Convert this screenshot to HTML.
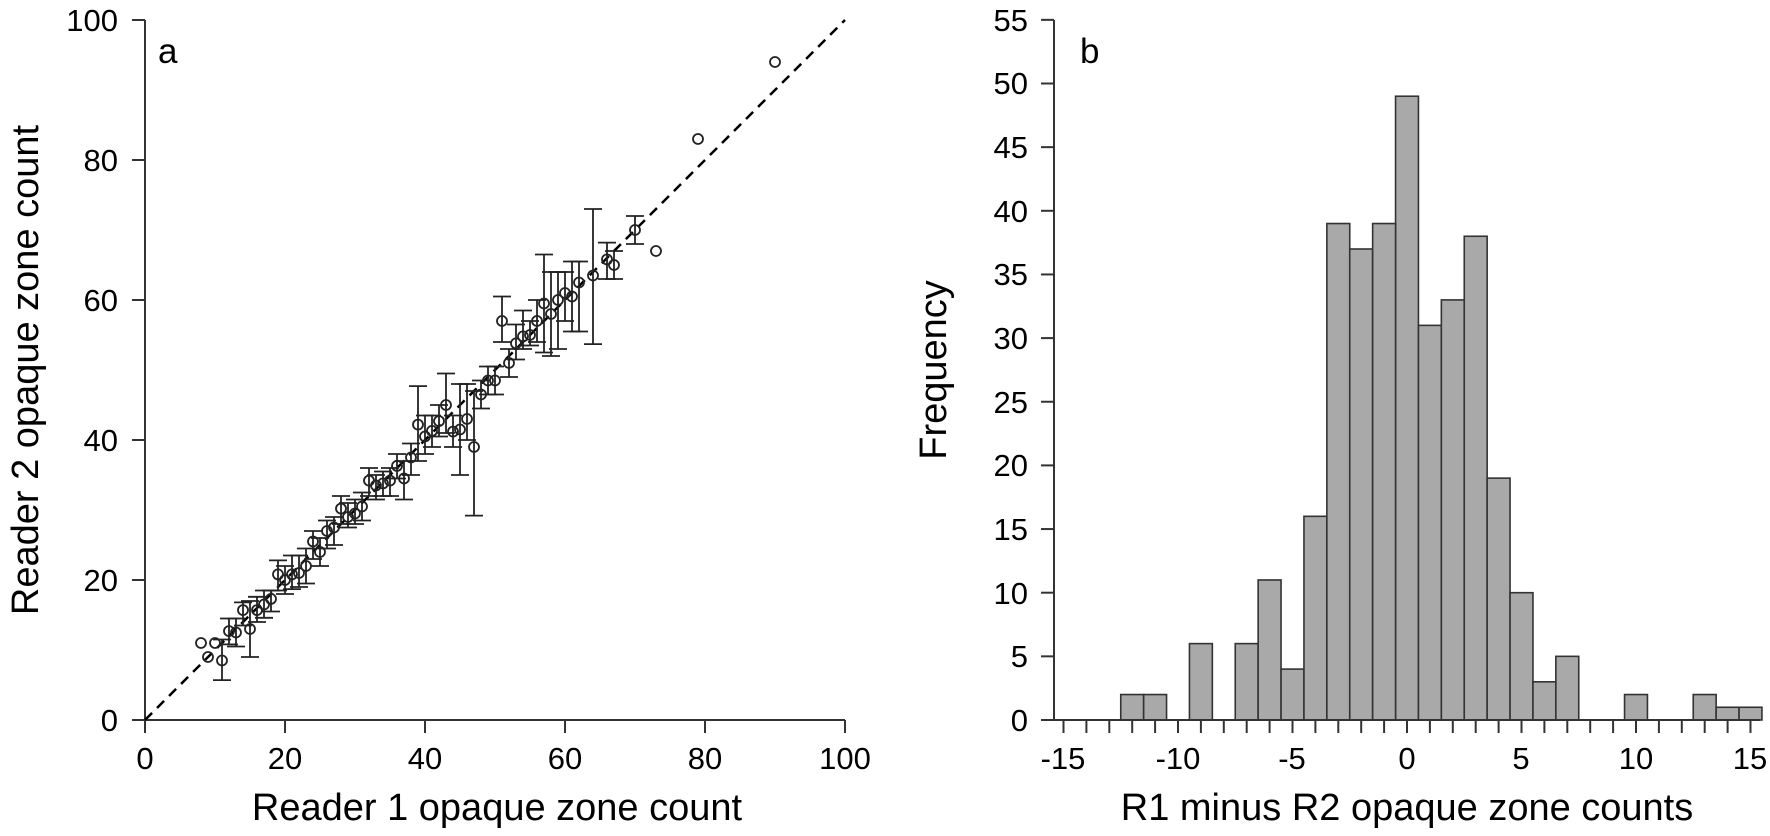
<!DOCTYPE html>
<html><head><meta charset="utf-8"><style>
html,body{margin:0;padding:0;background:#fff;}
svg{display:block;font-family:"Liberation Sans",Arial,sans-serif;}
</style></head><body>
<svg id="s" width="1770" height="836" viewBox="0 0 1770 836" xmlns="http://www.w3.org/2000/svg">
<rect width="1770" height="836" fill="#fff"/>
<g id="left" stroke="#333" stroke-width="2" fill="none">
<line x1="145" y1="20" x2="145" y2="720"/>
<line x1="132" y1="720" x2="845" y2="720"/>
<line x1="132" y1="580" x2="145" y2="580"/><line x1="132" y1="440" x2="145" y2="440"/><line x1="132" y1="300" x2="145" y2="300"/><line x1="132" y1="160" x2="145" y2="160"/><line x1="132" y1="20" x2="145" y2="20"/>
<line x1="145" y1="720" x2="145" y2="733"/><line x1="285" y1="720" x2="285" y2="733"/><line x1="425" y1="720" x2="425" y2="733"/><line x1="565" y1="720" x2="565" y2="733"/><line x1="705" y1="720" x2="705" y2="733"/><line x1="845" y1="720" x2="845" y2="733"/>
<line x1="145" y1="720" x2="845" y2="20" stroke="#000" stroke-width="2.5" stroke-dasharray="10,7"/>
</g>
<g id="pts" stroke="#222" stroke-width="1.8" fill="none"></g>
<g font-size="31" fill="#000" text-anchor="end">
<text x="118" y="731">0</text><text x="118" y="591">20</text><text x="118" y="451">40</text><text x="118" y="311">60</text><text x="118" y="171">80</text><text x="118" y="31">100</text>
</g>
<g font-size="31" fill="#000" text-anchor="middle">
<text x="145" y="769">0</text><text x="285" y="769">20</text><text x="425" y="769">40</text><text x="565" y="769">60</text><text x="705" y="769">80</text><text x="845" y="769">100</text>
</g>
<text x="497" y="820" font-size="38" text-anchor="middle">Reader 1 opaque zone count</text>
<text transform="translate(38,370) rotate(-90)" font-size="38" text-anchor="middle">Reader 2 opaque zone count</text>
<text x="158" y="63" font-size="35">a</text>

<g id="bars" stroke="#333" stroke-width="1.6" fill="#a9a9a9"></g>
<g id="right" stroke="#333" stroke-width="2" fill="none">
<line x1="1054" y1="20" x2="1054" y2="720"/>
<line x1="1054" y1="720" x2="1760" y2="720"/>
</g>
<g id="rt" stroke="#333" stroke-width="2"></g>
<g font-size="31" fill="#000" text-anchor="end">
<text x="1028" y="731">0</text><text x="1028" y="667">5</text><text x="1028" y="604">10</text><text x="1028" y="540">15</text><text x="1028" y="476">20</text><text x="1028" y="413">25</text><text x="1028" y="349">30</text><text x="1028" y="285">35</text><text x="1028" y="222">40</text><text x="1028" y="158">45</text><text x="1028" y="94">50</text><text x="1028" y="31">55</text>
</g>
<g font-size="31" fill="#000" text-anchor="middle">
<text x="1063" y="769">-15</text><text x="1178" y="769">-10</text><text x="1292" y="769">-5</text><text x="1407" y="769">0</text><text x="1521" y="769">5</text><text x="1636" y="769">10</text><text x="1750" y="769">15</text>
</g>
<text x="1407" y="820" font-size="38" text-anchor="middle">R1 minus R2 opaque zone counts</text>
<text transform="translate(946,370) rotate(-90)" font-size="38" text-anchor="middle">Frequency</text>
<text x="1080" y="63" font-size="35">b</text>
</svg>
<script>
var NS="http://www.w3.org/2000/svg";
function el(p,t,a){var e=document.createElementNS(NS,t);for(var k in a)e.setAttribute(k,a[k]);p.appendChild(e);return e;}
var X=function(v){return 145+7.0*v},Y=function(v){return 720-7.0*v};
var pts=document.getElementById('pts');
var solo=[[8,11],[9,9],[10,11],[73,67],[79,83],[90,94]];
var eb=[[11,8.5,5.7,11.5],[12,12.7,10.8,14.5],[13,12.5,10.5,14.5],[14,15.7,13.5,16.8],[15,13,9,17],[16,15.7,14,17.6],[17,16.5,14.6,18.5],[18,17.3,15.5,18.5],[19,20.8,18.5,22.8],[20,20,18,22],[21,20.8,18.7,23.5],[22,21,19,23.5],[23,22,19.5,24.5],[24,25.5,23,27],[25,24,22,26],[26,27,24.5,28.5],[27,27.5,25,29],[28,30.2,28,32],[29,29,27.5,31],[30,29.5,28,31.5],[31,30.5,28.5,32.5],[32,34.2,32,36],[33,33.5,31.5,35],[34,33.8,32,35.5],[35,34.2,32,36],[36,36.3,34.5,38],[37,34.5,31.5,37],[38,37.5,35,39.5],[39,42.2,37,47.7],[40,40.5,38,43.5],[41,41.3,39,43.5],[42,42.7,40.5,45],[43,45,41,49.5],[44,41.2,39,43.5],[45,41.5,35,48],[46,43,40,48],[47,39,29.2,47],[48,46.5,44.5,48.5],[49,48.5,46.5,50.5],[50,48.5,46.5,50.5],[51,57,54,60.5],[52,51,49,53],[53,53.8,51.5,56.5],[54,54.8,53,58.5],[55,55,53.5,57],[56,57,54,60],[57,59.5,52.5,66.5],[58,58,52,64],[59,60,53,64],[60,61,57,64],[61,60.5,55.5,65.5],[62,62.5,55.5,65.5],[64,63.5,53.7,73],[66,65.8,63,68.2],[67,65,63,67],[70,70,68,72]];
solo.forEach(function(p){el(pts,'circle',{cx:X(p[0]),cy:Y(p[1]),r:5});});
eb.forEach(function(p){var x=X(p[0]);
el(pts,'line',{x1:x,y1:Y(p[2]),x2:x,y2:Y(p[3])});
el(pts,'line',{x1:x-9,y1:Y(p[2]),x2:x+9,y2:Y(p[2])});
el(pts,'line',{x1:x-9,y1:Y(p[3]),x2:x+9,y2:Y(p[3])});
el(pts,'circle',{cx:x,cy:Y(p[1]),r:5});});
var XB=function(v){return 1407+22.9*v},YB=function(f){return 720-12.73*f};
var h={"-12":2,"-11":2,"-9":6,"-7":6,"-6":11,"-5":4,"-4":16,"-3":39,"-2":37,"-1":39,"0":49,"1":31,"2":33,"3":38,"4":19,"5":10,"6":3,"7":5,"10":2,"13":2,"14":1,"15":1};
var bars=document.getElementById('bars');
for(var k in h){var v=+k;el(bars,'rect',{x:XB(v-0.5),y:YB(h[k]),width:22.9,height:12.73*h[k]});}
var rt=document.getElementById('rt');
for(var v=-15;v<=15;v++)el(rt,'line',{x1:XB(v),y1:720,x2:XB(v),y2:733});
for(var f=0;f<=55;f+=5)el(rt,'line',{x1:1041,y1:YB(f),x2:1054,y2:YB(f)});
</script>
</body></html>
